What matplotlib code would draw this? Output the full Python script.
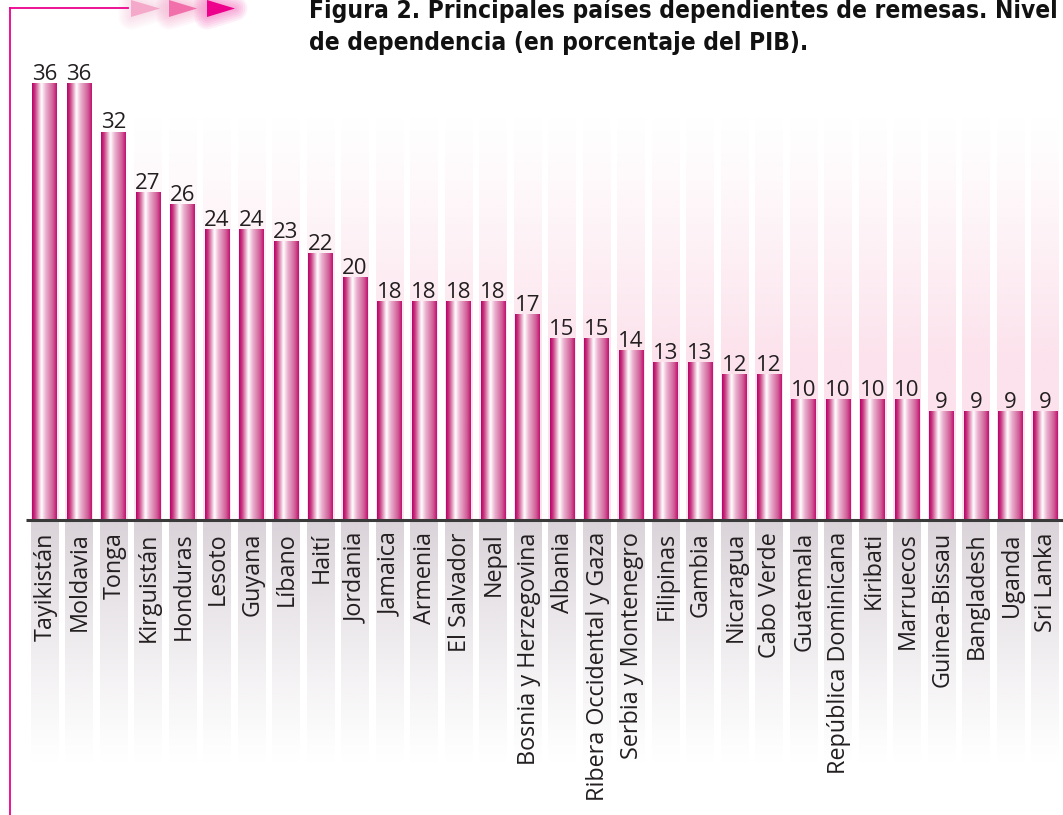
import numpy as np
import matplotlib.pyplot as plt
from matplotlib.colors import LinearSegmentedColormap, to_rgb
from matplotlib.patches import Polygon
from matplotlib.lines import Line2D

paises = ["Tayikistán", "Moldavia", "Tonga", "Kirguistán", "Honduras", "Lesoto",
          "Guyana", "Líbano", "Haití", "Jordania", "Jamaica", "Armenia",
          "El Salvador", "Nepal", "Bosnia y Herzegovina", "Albania",
          "Ribera Occidental y Gaza", "Serbia y Montenegro", "Filipinas", "Gambia",
          "Nicaragua", "Cabo Verde", "Guatemala", "República Dominicana", "Kiribati",
          "Marruecos", "Guinea-Bissau", "Bangladesh", "Uganda", "Sri Lanka"]
remesas_pib = [36, 36, 32, 27, 26, 24, 24, 23, 22, 20, 18, 18, 18, 18, 17, 15,
               15, 14, 13, 13, 12, 12, 10, 10, 10, 10, 9, 9, 9, 9]

titulo_1 = "Figura 2. Principales países dependientes de remesas. Nivel"
titulo_2 = "de dependencia (en porcentaje del PIB)."

W, H = 1063, 815
px_x = 34.5      # px per category
px_y = 12.14     # px per percentage point
x0_px = 44.5     # centre of first bar
base_px = 520    # baseline, px from top

MAGENTA = "#ec008c"
TEXTO = "#231f20"

barra_cmap = LinearSegmentedColormap.from_list(
    "barra", [(0.0, "#b8006a"), (0.12, "#c8397f"), (0.38, "#ffffff"),
              (0.55, "#eab3cf"), (0.85, "#cf5a95"), (1.0, "#c0106f")])

fig = plt.figure(figsize=(W / 100, H / 100), dpi=100)
ax = fig.add_axes([0, 0, 1, 1])
ax.set_xlim(-x0_px / px_x, (W - x0_px) / px_x)
ax.set_ylim(-(H - base_px) / px_y, base_px / px_y)
ax.axis("off")

n = len(paises)
x = np.arange(n)

# soft background columns: pink above the baseline, grey below it
col_w = 0.79
top_val = (base_px - 115) / px_y
bot_val = -(765 - base_px) / px_y
pink = np.array(to_rgb("#fce2ec"))
grey = np.array(to_rgb("#dad3d9"))
t = np.linspace(0, 1, 200)            # 0 at baseline, 1 at far end
img_up = np.ones((200, 1, 4))
img_up[:, 0, :3] = pink
img_up[:, 0, 3] = np.clip((1 - t) / 0.6, 0, 1) ** 1.2
img_dn = np.ones((200, 1, 4))
img_dn[:, 0, :3] = grey
img_dn[:, 0, 3] = (1 - t) ** 1.2
for xi in x:
    ax.imshow(img_up, extent=(xi - col_w / 2, xi + col_w / 2, 0, top_val),
              origin="lower", aspect="auto", zorder=1, interpolation="bilinear")
    ax.imshow(img_dn, extent=(xi - col_w / 2, xi + col_w / 2, bot_val, 0),
              origin="upper", aspect="auto", zorder=1, interpolation="bilinear")

# bars with a horizontal cylinder-like gradient
bars = ax.bar(x, remesas_pib, width=0.72, color="none", edgecolor="none", zorder=3)
grad = np.linspace(0, 1, 256).reshape(1, -1)
for b, v in zip(bars, remesas_pib):
    bx, bw = b.get_x(), b.get_width()
    im = ax.imshow(grad, cmap=barra_cmap, extent=(bx, bx + bw, 0, v),
                   aspect="auto", zorder=3, interpolation="bilinear")
    im.set_clip_path(b)
    ax.text(b.get_x() + bw / 2, v + 0.25, f"{v}", ha="center", va="baseline",
            fontsize=16, family="Open Sans", color=TEXTO, zorder=5)

for xi, nombre in zip(x, paises):
    ax.text(xi + 0.03, -1.0, nombre, rotation=90, ha="center", va="top",
            fontsize=16.8, family="Open Sans", color=TEXTO, zorder=5)

# baseline
ax.plot([(26 - x0_px) / px_x, (W - x0_px) / px_x], [0, 0],
        color="#3a3a3a", lw=2.2, zorder=6, solid_capstyle="butt")

# decorative frame line and arrows
fig.add_artist(Line2D([9.5 / W, 9.5 / W], [0, 1 - 8 / H], color=MAGENTA, lw=1.3))
fig.add_artist(Line2D([9.5 / W, 128 / W], [1 - 8 / H, 1 - 8 / H], color=MAGENTA, lw=1.3))
flechas = [(131, 160, "#f5a9ca"), (169, 197, "#f16fab"), (207, 235, MAGENTA)]
for xa, xb, c in flechas:
    pts = [(xa / W, 1 - 0 / H), (xb / W, 1 - 8.5 / H), (xa / W, 1 - 17 / H)]
    for k in range(6, 0, -1):
        fig.add_artist(Polygon(pts, closed=True, facecolor="none", edgecolor=c,
                               lw=k * 3, alpha=0.06, joinstyle="round"))
    fig.add_artist(Polygon(pts, closed=True, facecolor=c, edgecolor="none"))

tit_kw = dict(ha="left", va="baseline", fontsize=17.6, family="DejaVu Sans",
              stretch="condensed", weight="bold", color="#111111")
fig.text(309 / W, 1 - 18 / H, titulo_1, **tit_kw)
fig.text(309 / W, 1 - 50 / H, titulo_2, **tit_kw)

fig.savefig("out.png", dpi=100)
